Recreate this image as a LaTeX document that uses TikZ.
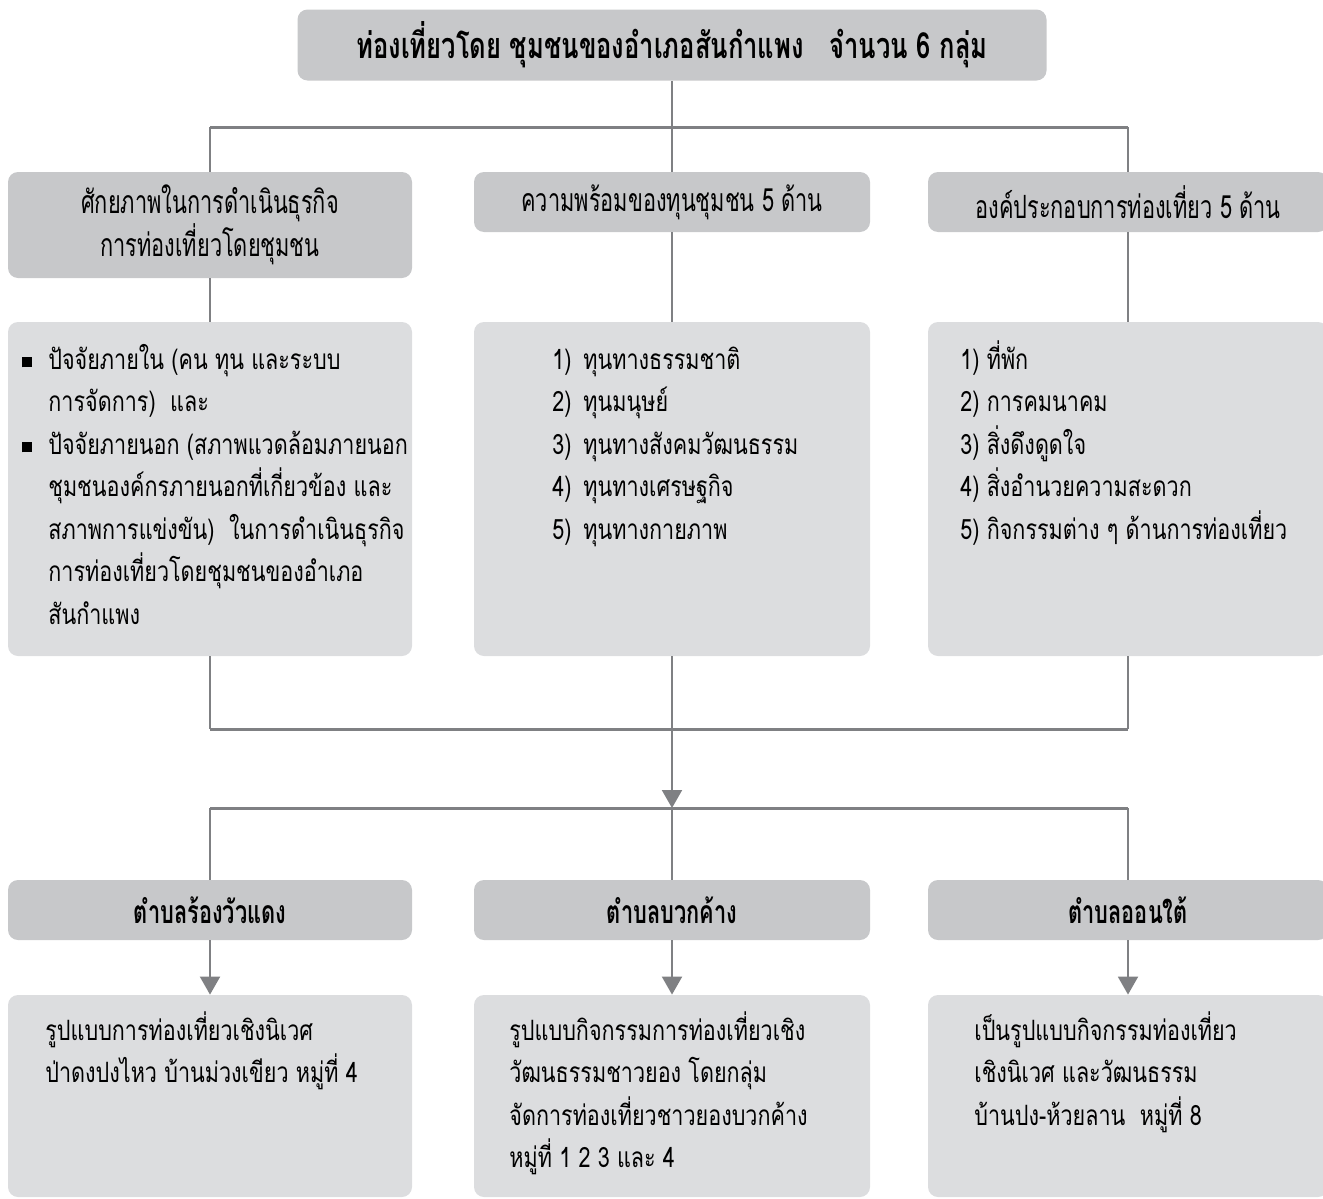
\documentclass[tikz,border=0pt]{standalone}
\usepackage{fontspec}
\newfontfamily\thaifont[Script=Thai,FakeStretch=0.77]{Loma}
\newfontfamily\thaicond[Script=Thai,FakeStretch=0.68]{Loma}
\newfontfamily\thaititle[Script=Thai,FakeStretch=0.71]{Loma}
\usetikzlibrary{arrows.meta}
\definecolor{hdgray}{HTML}{C7C8CA}
\definecolor{bxgray}{HTML}{DCDDDF}
\definecolor{lngray}{HTML}{7F8083}
\tikzset{
  head/.style={fill=hdgray, rounded corners=5pt, inner sep=0pt, align=center,
    font=\thaicond\fontsize{16}{21.5}\selectfont},
  body/.style={fill=bxgray, rounded corners=5pt, inner sep=0pt},
  words/.style={inner sep=0pt, align=left, anchor=north west,
    font=\thaifont\fontsize{14}{21.25}\selectfont},
  link/.style={draw=lngray, line width=1pt},
  bus/.style={draw=lngray, line width=1.5pt},
  tip/.style={-{Triangle[width=10pt,length=9pt]}}
}
\newcommand\sqbul{\rule{0pt}{16pt}\makebox[13pt][l]{\raisebox{1pt}{\rule{5pt}{5pt}}}}
\newcommand\numb[1]{\makebox[15.5pt][l]{#1}}
\newcommand\topline{\rule{0pt}{16pt}}
\begin{document}
\begin{tikzpicture}[x=0.5pt, y=-0.5pt]
    \useasboundingbox (0,0) rectangle (1323,1199);
    \clip (0,0) rectangle (1323,1199);
    % the title
    \node[head, minimum width=374.5pt, minimum height=35.5pt,
      font=\thaititle\bfseries\fontsize{18}{20}\selectfont] (title) at (672,45)
      {ท่องเที่ยวโดย ชุมชนของอำเภอสันกำแพง \ \ จำนวน 6 กลุ่ม};
    % the first row of headers
    \node[head, minimum width=202pt, minimum height=53pt] (hd1) at (210,225)
      {ศักยภาพในการดำเนินธุรกิจ\\การท่องเที่ยวโดยชุมชน};
    \node[head, minimum width=198pt, minimum height=30pt] (hd2) at (672,202)
      {ความพร้อมของทุนชุมชน 5 ด้าน};
    \node[head, minimum width=200pt, minimum height=30pt] (hd3) at (1128,202)
      {องค์ประกอบการท่องเที่ยว 5 ด้าน};
    % the boxes below them
    \node[body, minimum width=202pt, minimum height=167pt] (ct1) at (210,489) {};
    \node[body, minimum width=198pt, minimum height=167pt] (ct2) at (672,489) {};
    \node[body, minimum width=200pt, minimum height=167pt] (ct3) at (1128,489) {};
    % the texts in the boxes
    \node[words] (tx1) at (22,337) {\sqbul ปัจจัยภายใน (คน ทุน และระบบ\\
      \hspace*{13pt}การจัดการ) \ และ\\
      \sqbul ปัจจัยภายนอก (สภาพแวดล้อมภายนอก\\
      \hspace*{13pt}ชุมชนองค์กรภายนอกที่เกี่ยวข้อง และ\\
      \hspace*{13pt}สภาพการแข่งขัน) \ ในการดำเนินธุรกิจ\\
      \hspace*{13pt}การท่องเที่ยวโดยชุมชนของอำเภอ\\
      \hspace*{13pt}สันกำแพง};
    \node[words] (tx2) at (552,337) {\topline\numb{1)}ทุนทางธรรมชาติ\\
      \numb{2)}ทุนมนุษย์\\
      \numb{3)}ทุนทางสังคมวัฒนธรรม\\
      \numb{4)}ทุนทางเศรษฐกิจ\\
      \numb{5)}ทุนทางกายภาพ};
    \node[words] (tx3) at (960,337) {\topline 1) ที่พัก\\
      2) การคมนาคม\\
      3) สิ่งดึงดูดใจ\\
      4) สิ่งอำนวยความสะดวก\\
      5) กิจกรรมต่าง ๆ ด้านการท่องเที่ยว};
    % the sub-districts
    \coordinate (busA) at (672,127);
    \coordinate (busB) at (672,729);
    \coordinate (busC) at (672,808);
    \node[head, minimum width=202pt, minimum height=30pt,
      font=\thaicond\bfseries\fontsize{16}{20}\selectfont] (bh1) at (210,910) {ตำบลร้องวัวแดง};
    \node[head, minimum width=198pt, minimum height=30pt,
      font=\thaicond\bfseries\fontsize{16}{20}\selectfont] (bh2) at (672,910) {ตำบลบวกค้าง};
    \node[head, minimum width=200pt, minimum height=30pt,
      font=\thaicond\bfseries\fontsize{16}{20}\selectfont] (bh3) at (1128,910) {ตำบลออนใต้};
    \node[body, minimum width=202pt, minimum height=101pt] (bc1) at (210,1096) {};
    \node[body, minimum width=198pt, minimum height=101pt] (bc2) at (672,1096) {};
    \node[body, minimum width=200pt, minimum height=101pt] (bc3) at (1128,1096) {};
    \node[words] (bt1) at (45,1008) {\topline รูปแบบการท่องเที่ยวเชิงนิเวศ\\
      ป่าดงปงไหว บ้านม่วงเขียว หมู่ที่ 4};
    \node[words] (bt2) at (509,1008) {\topline รูปแบบกิจกรรมการท่องเที่ยวเชิง\\
      วัฒนธรรมชาวยอง โดยกลุ่ม\\
      จัดการท่องเที่ยวชาวยองบวกค้าง\\
      หมู่ที่ 1 2 3 และ 4};
    \node[words] (bt3) at (974,1008) {\topline เป็นรูปแบบกิจกรรมท่องเที่ยว\\
      เชิงนิเวศ และวัฒนธรรม\\
      บ้านปง-ห้วยลาน \ หมู่ที่ 8};
    % draw the lines
    \draw[link] (title) -- (hd2);
    \draw[bus] (hd1.north |- busA) -- (hd3.north |- busA);
    \draw[link] (hd1.north |- busA) -- (hd1.north);
    \draw[link] (hd3.north |- busA) -- (hd3.north);
    \draw[link] (hd1) -- (ct1);
    \draw[link] (hd2) -- (ct2);
    \draw[link] (hd3) -- (ct3);
    \draw[link] (ct1.south) -- (ct1.south |- busB);
    \draw[link] (ct3.south) -- (ct3.south |- busB);
    \draw[bus] (ct1.south |- busB) -- (ct3.south |- busB);
    \draw[link, tip] (ct2) -- (busC);
    \draw[bus] (bh1.north |- busC) -- (bh3.north |- busC);
    \draw[link] (bh1.north |- busC) -- (bh1.north);
    \draw[link] (busC) -- (bh2.north);
    \draw[link] (bh3.north |- busC) -- (bh3.north);
    \draw[link, tip] (bh1) -- (bc1);
    \draw[link, tip] (bh2) -- (bc2);
    \draw[link, tip] (bh3) -- (bc3);
\end{tikzpicture}
\end{document}
